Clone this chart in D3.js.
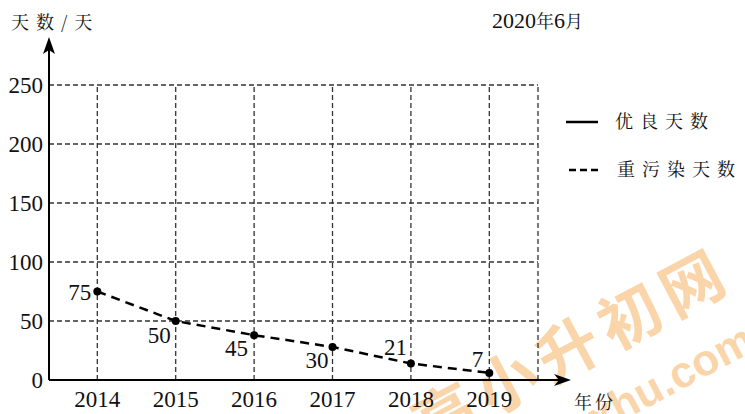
<!DOCTYPE html>
<html>
<head>
<meta charset="utf-8">
<script src="https://cdn.jsdelivr.net/npm/d3@7/dist/d3.min.js"></script>
<style>
  body{margin:0;background:#fff;}
  svg{display:block;}
</style>
</head>
<body>
<script>
const w = 745;
const h = 414;
const serif = '"Liberation Serif"';
const cjk = '"Noto Serif CJK SC"';

// data
const years = ['2014','2015','2016','2017','2018','2019'];
const pollutedDays = [75, 50, 38, 28, 14, 6];      // where the points sit
const pollutedLabels = ['75','50','45','30','21','7']; // numbers written next to them
const yTicks = [0, 50, 100, 150, 200, 250];
const legendItems = ['优良天数', '重污染天数'];

const svg = d3.select('body').append('svg').attr('width', w).attr('height', h);

const x = d3.scalePoint().domain(years).range([97.3, 489.3]);
const y = d3.scaleLinear().domain([0, 250]).range([380, 85]);
const x0 = 49, xEnd = 571, gridRight = 538;

function num(sel, size){
  return sel.style('font-family', serif).style('font-size', (size || 22) + 'px').attr('fill', '#111');
}
function cn(sel, size){
  return sel.style('font-family', cjk).style('font-size', (size || 18) + 'px').attr('fill', '#111');
}

//----watermark (behind everything)----
const wm = svg.append('g').attr('opacity', 0.45).attr('fill', '#f8a445')
  .style('font-family', '"Noto Sans CJK SC"').style('font-weight', 'bold');
wm.append('text').attr('transform', 'translate(428,450) rotate(-28)')
  .style('font-size', '62px').style('letter-spacing', '8px').text('高小升初网');
wm.append('text').attr('transform', 'translate(598,434) rotate(-28)')
  .style('font-size', '44px').style('font-family', '"Liberation Sans"').text('xhu.com');

//----grid----
const grid = svg.append('g')
  .attr('stroke', '#333').attr('stroke-width', 1.3).attr('stroke-dasharray', '5,3').attr('fill', 'none');
grid.selectAll('line.h')
  .data(yTicks.filter(d => d > 0))
  .enter().append('line')
  .attr('x1', x0).attr('x2', gridRight)
  .attr('y1', d => y(d)).attr('y2', d => y(d));
grid.selectAll('line.v')
  .data(years.map(d => x(d)).concat([gridRight]))
  .enter().append('line')
  .attr('x1', d => d).attr('x2', d => d)
  .attr('y1', y(0)).attr('y2', y(250));

//----axes----
svg.append('line').attr('x1', x0).attr('x2', x0).attr('y1', y(0)).attr('y2', 50)
  .attr('stroke', '#000').attr('stroke-width', 2);
svg.append('path').attr('d', `M${x0},37 L${x0-6},54 L${x0},50 L${x0+6},54 Z`).attr('fill', '#000');
svg.append('line').attr('x1', x0).attr('x2', xEnd - 10).attr('y1', y(0)).attr('y2', y(0))
  .attr('stroke', '#000').attr('stroke-width', 2);
svg.append('path').attr('d', `M${xEnd},380 L${xEnd-17},374 L${xEnd-12},380 L${xEnd-17},386 Z`).attr('fill', '#000');

svg.selectAll('text.ytick')
  .data(yTicks)
  .enter().append('text')
  .call(num, 23)
  .attr('x', 43).attr('y', d => y(d) + 8)
  .attr('text-anchor', 'end')
  .text(d => d);

svg.selectAll('text.xtick')
  .data(years)
  .enter().append('text')
  .call(num, 23)
  .attr('x', d => x(d)).attr('y', 407)
  .attr('text-anchor', 'middle')
  .text(d => d);

svg.append('text').call(cn).attr('x', 11).attr('y', 29)
  .style('letter-spacing', '7px').text('天数/天');
svg.append('text').call(cn).attr('x', 574).attr('y', 409)
  .style('letter-spacing', '3px').text('年份');
const ttl = svg.append('text').attr('x', 492).attr('y', 28).call(num, 22);
ttl.append('tspan').text('2020');
ttl.append('tspan').style('font-family', cjk).style('font-size', '18px').text('年');
ttl.append('tspan').text('6');
ttl.append('tspan').style('font-family', cjk).style('font-size', '18px').text('月');

//----series----
const line = d3.line().x((d, i) => x(years[i])).y(d => y(d));
svg.append('path').datum(pollutedDays)
  .attr('d', line)
  .attr('fill', 'none').attr('stroke', '#000').attr('stroke-width', 2.5).attr('stroke-dasharray', '9,6');
svg.selectAll('circle.pt')
  .data(pollutedDays)
  .enter().append('circle')
  .attr('cx', (d, i) => x(years[i])).attr('cy', d => y(d)).attr('r', 4).attr('fill', '#000');

// label offsets relative to each point
const lblOff = [[-6, 8], [-5, 22], [-6, 21], [-4, 21], [-4, -8], [-6, -6]];
svg.selectAll('text.lbl')
  .data(pollutedDays)
  .enter().append('text')
  .call(num, 23)
  .attr('x', (d, i) => x(years[i]) + lblOff[i][0])
  .attr('y', (d, i) => y(d) + lblOff[i][1])
  .attr('text-anchor', 'end')
  .text((d, i) => pollutedLabels[i]);

//----legend----
const lg = svg.append('g');
lg.selectAll('line')
  .data(legendItems)
  .enter().append('line')
  .attr('x1', (d, i) => i ? 569 : 566).attr('x2', 598)
  .attr('y1', (d, i) => 122 + i * 48).attr('y2', (d, i) => 122 + i * 48)
  .attr('stroke', '#000').attr('stroke-width', 2.5)
  .attr('stroke-dasharray', (d, i) => i ? '7,4' : null);
lg.selectAll('text')
  .data(legendItems)
  .enter().append('text')
  .call(cn)
  .attr('x', (d, i) => i ? 617 : 615).attr('y', (d, i) => 128 + i * 48)
  .style('letter-spacing', '7px')
  .text(d => d);
</script>
</body>
</html>
